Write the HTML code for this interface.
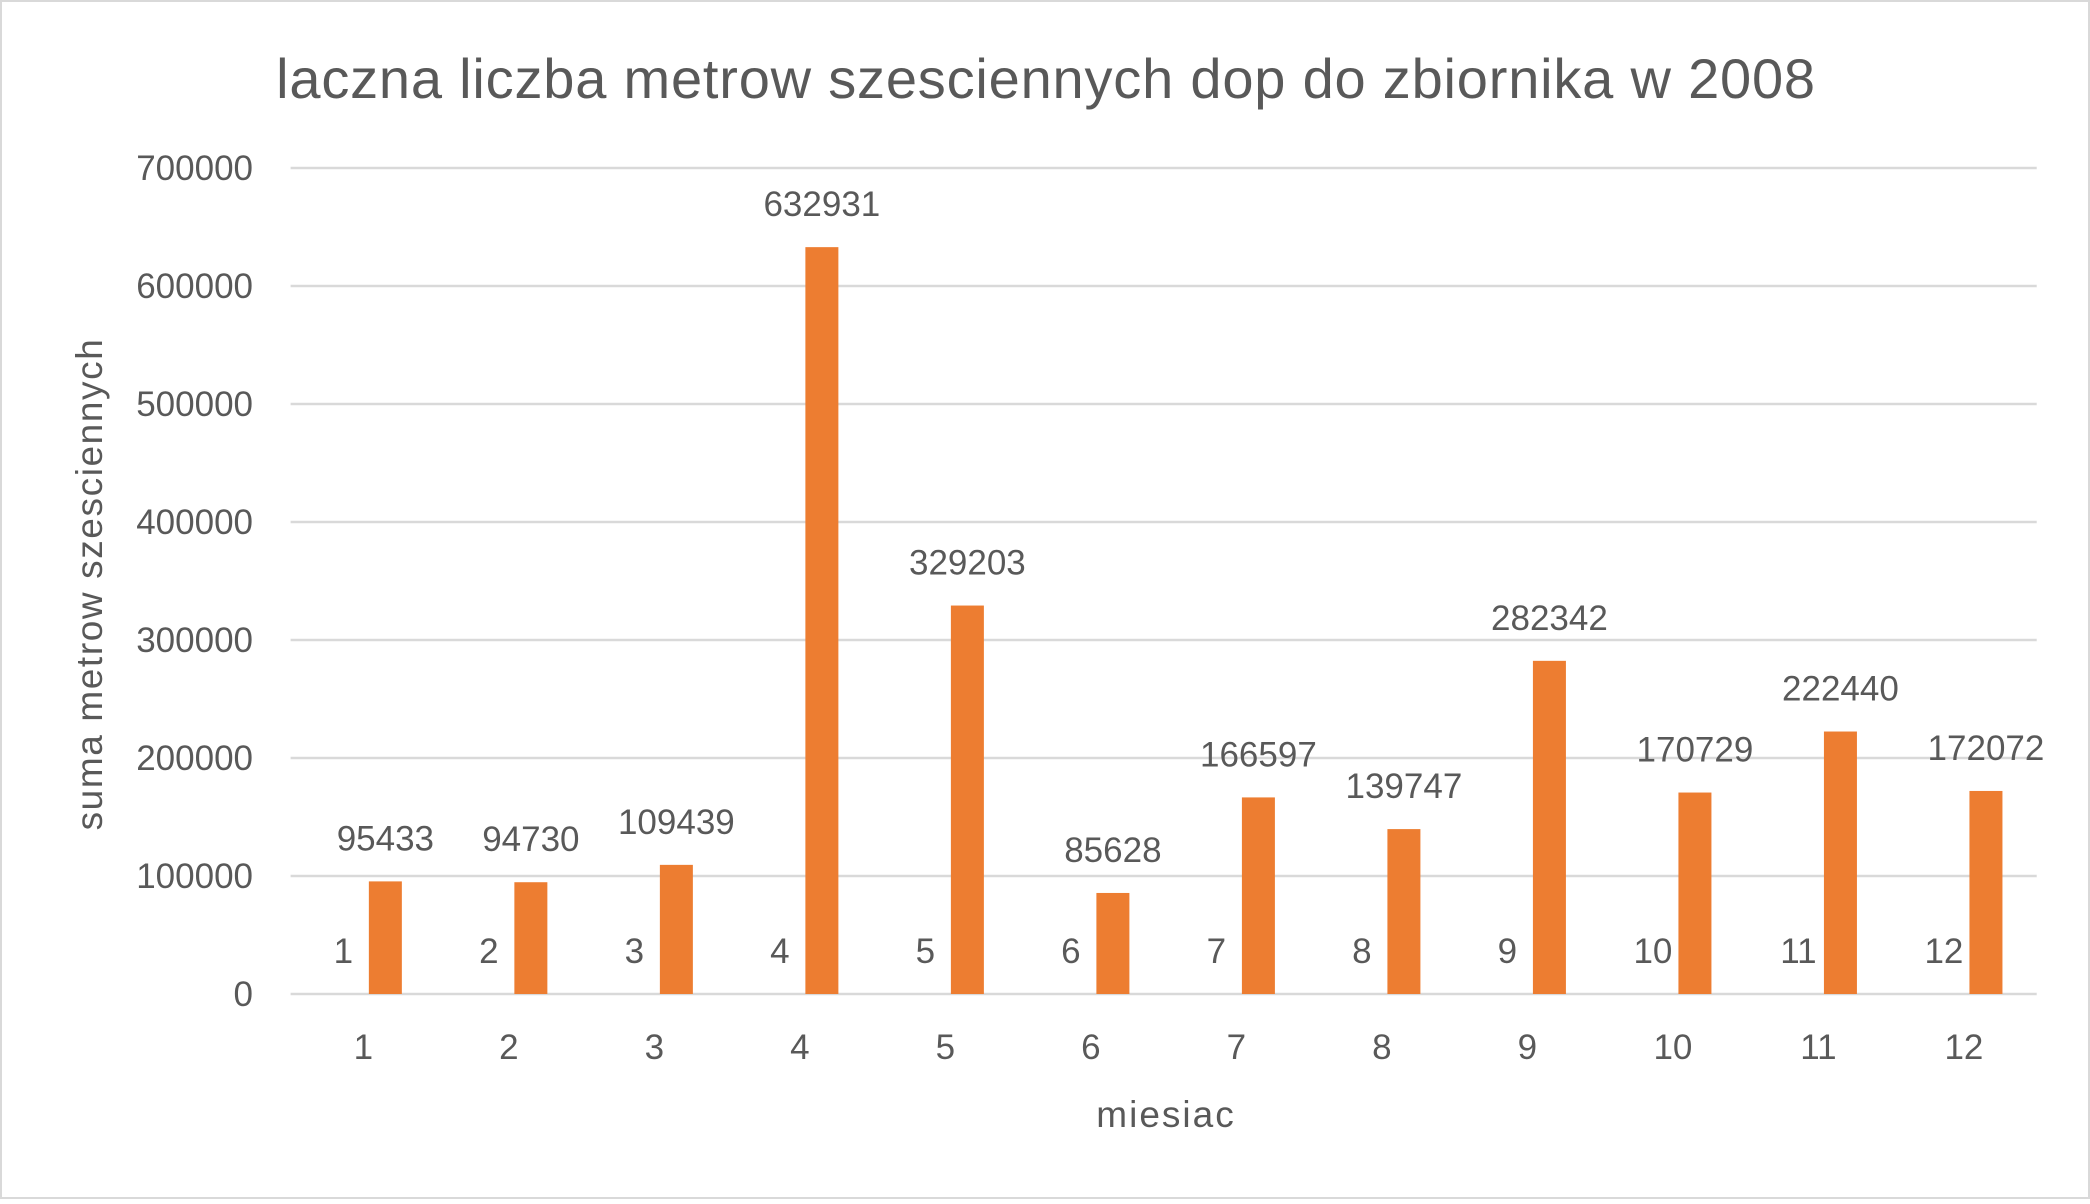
<!DOCTYPE html>
<html><head><meta charset="utf-8"><style>
body{margin:0;background:#fff}
svg text{font-family:"Liberation Sans",sans-serif;fill:#595959}
</style></head><body>
<svg width="2090" height="1199">
<rect x="1" y="1" width="2088" height="1197" fill="#fff" stroke="#d9d9d9" stroke-width="2"/>
<text x="1046" y="98" font-size="56" letter-spacing="0.8" text-anchor="middle">laczna liczba metrow szesciennych dop do zbiornika w 2008</text>
<text transform="translate(102,584) rotate(-90)" font-size="37" letter-spacing="1.6" text-anchor="middle">suma metrow szesciennych</text>
<text x="1166" y="1127" font-size="37" letter-spacing="2" text-anchor="middle">miesiac</text>
<g id="grid"></g><g id="bars"></g>
</svg>
<script>
const categories=["1","2","3","4","5","6","7","8","9","10","11","12"];
const monthValues=[1,2,3,4,5,6,7,8,9,10,11,12];
const volumes=[95433,94730,109439,632931,329203,85628,166597,139747,282342,170729,222440,172072];
const yTicks=[0,100000,200000,300000,400000,500000,600000,700000];
const NS="http://www.w3.org/2000/svg";
const L=290.6,R=2036.7,Y0=994,YTOP=168,YMAX=700000;
const y=v=>Y0-(v/YMAX)*(Y0-YTOP);
const cw=(R-L)/categories.length;
const cx=i=>L+cw*(i+0.5);
function mk(tag,attrs,parent,txt){const e=document.createElementNS(NS,tag);for(const k in attrs)e.setAttribute(k,attrs[k]);if(txt!==undefined)e.textContent=txt;parent.appendChild(e);return e;}
const g=document.getElementById('grid'),b=document.getElementById('bars');
yTicks.forEach(t=>{
 const l=mk('line',{x1:L,x2:R,y1:y(t),y2:y(t),stroke:'#d9d9d9','stroke-width':2.5},g);
 
 
 const tx=mk('text',{x:253,y:y(t)+12,'font-size':35,'text-anchor':'end'},g,String(t));
 
 
});
categories.forEach((c,i)=>{
 const xl=mk('text',{x:cx(i),y:1059,'font-size':35,'text-anchor':'middle'},b,c);
 
 
 const ml=mk('text',{x:cx(i)-20,y:963,'font-size':35,'text-anchor':'middle','fill':'#404040'},b,String(monthValues[i]));
 
 
 const bx=cx(i)+22-16.5;
 const r=mk('rect',{x:bx,y:y(volumes[i]),width:33,height:Y0-y(volumes[i]),fill:'#ed7d31'},b);
 
 
 const vl=mk('text',{x:cx(i)+22,y:y(volumes[i])-31,'font-size':35,'text-anchor':'middle','fill':'#404040'},b,String(volumes[i]));
 
 
});
</script>
</body></html>
